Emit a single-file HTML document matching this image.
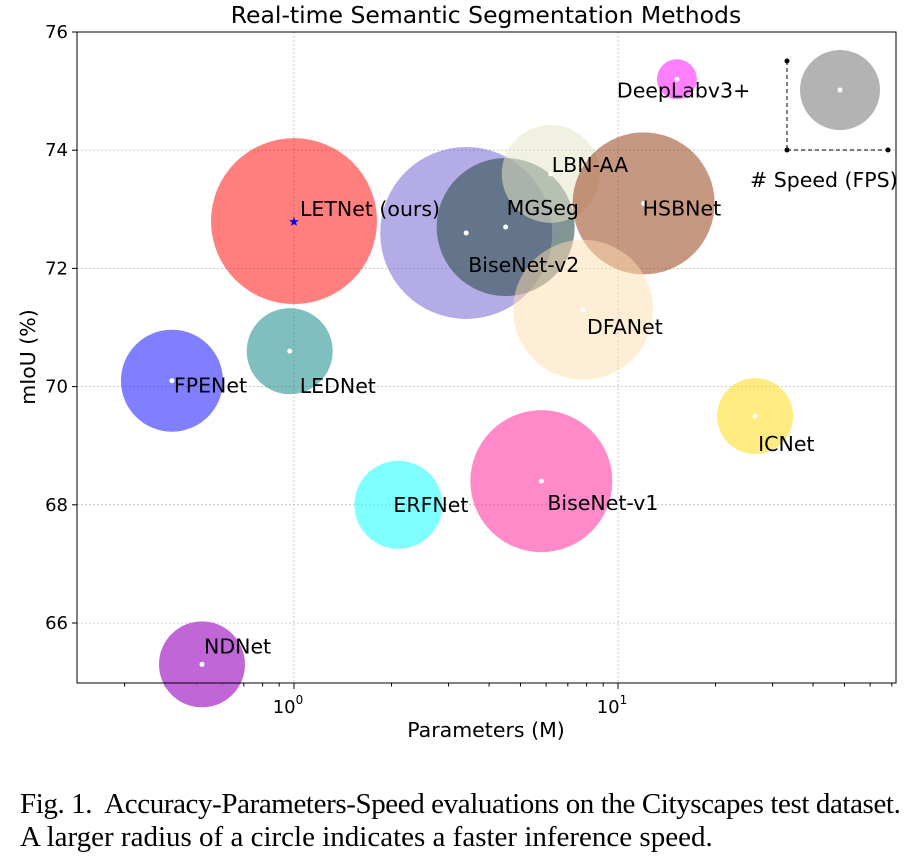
<!DOCTYPE html>
<html><head><meta charset="utf-8"><style>
body{margin:0;background:#fff;width:917px;height:856px;overflow:hidden}
svg text{font-family:"DejaVu Sans","Liberation Sans",sans-serif}
.cap{position:absolute;left:20px;font-family:"Liberation Serif",serif;font-size:29px;line-height:33px;color:#000;white-space:nowrap}
</style></head><body>
<svg id="chart" width="917" height="780" style="position:absolute;left:0;top:0"></svg>
<div class="cap" style="top:788px;letter-spacing:-0.4px">Fig. 1.&nbsp; Accuracy-Parameters-Speed evaluations on the Cityscapes test dataset.</div>
<div class="cap" style="top:821px">A larger radius of a circle indicates a faster inference speed.</div>
<script>
const methods=["LETNet (ours)","BiseNet-v2","MGSeg","LBN-AA","HSBNet","DFANet","FPENet","LEDNet","ERFNet","BiseNet-v1","ICNet","NDNet","DeepLabv3+"];
const params=[1.0,3.4,4.5,6.2,12,7.8,0.42,0.97,2.1,5.8,26.5,0.52,15.2];
const miou=[72.8,72.6,72.7,73.6,73.1,71.3,70.1,70.6,68.0,68.4,69.5,65.3,75.2];
const radii=[83,86,69,49,71,70,51,43,44,71,38,43,20];
const colors=["rgba(255,0,0,0.5)","rgba(106,90,205,0.5)","rgba(47,79,79,0.6)","rgba(230,230,200,0.55)","rgba(160,82,45,0.6)","rgba(255,222,173,0.5)","rgba(0,0,255,0.5)","rgba(0,128,128,0.5)","rgba(0,255,255,0.5)","rgba(255,20,147,0.5)","rgba(255,215,0,0.5)","rgba(186,85,211,0.9)","rgba(255,0,255,0.5)"];
const labelDx=[6,2,1,1,-1,4,2,10,-5,6,3,2,-60];
const labelDy=[-12,32,-19,-9,5,17,5,35,0,22,28,-18,11];
const yTicks=[66,68,70,72,74,76];
const xTicks=[1,10];
const X0=294,DEC=324,L=77,R=896,T=32,B=683;
const xs=v=>X0+Math.log10(v)*DEC;
const ys=v=>T+(76-v)*59.1;
const svg=document.getElementById('chart');
const NS="http://www.w3.org/2000/svg";
function mk(tag,at,parent){const e=document.createElementNS(NS,tag);for(const k in at)e.setAttribute(k,at[k]);(parent||svg).appendChild(e);return e;}
for(const t of yTicks){
 const g=mk('line',{x1:L,x2:R,y1:ys(t),y2:ys(t),stroke:'#bbb','stroke-width':0.8,'stroke-dasharray':'2,2'});
 
 
 mk('line',{x1:L-5,x2:L,y1:ys(t),y2:ys(t),stroke:'#000'});
 const tx=mk('text',{x:L-9,y:ys(t)+6,'text-anchor':'end','font-size':18});tx.textContent=t;
 
 
}
for(const t of xTicks){
 const g=mk('line',{x1:xs(t),x2:xs(t),y1:T,y2:B,stroke:'#bbb','stroke-width':0.8,'stroke-dasharray':'2,2'});
 
 
 mk('line',{x1:xs(t),x2:xs(t),y1:B,y2:B+6,stroke:'#000'});
 const tx=mk('text',{x:xs(t)-6,y:B+30,'text-anchor':'middle','font-size':18});tx.textContent='10';
 const sp=mk('tspan',{dy:-9,'font-size':12},tx);sp.textContent=(Math.log10(t)).toString();
 
 
}
for(let d=-1;d<=1;d++)for(let m=2;m<=9;m++){const v=m*Math.pow(10,d);const x=xs(v);if(x>L&&x<R)mk('line',{x1:x,x2:x,y1:B,y2:B+3.5,stroke:'#000'});}
methods.forEach((m,i)=>{
 const cx=xs(params[i]),cy=ys(miou[i]);
 const c=mk('circle',{cx,cy,r:radii[i],fill:colors[i]});
 
 
});
methods.forEach((m,i)=>{
 const cx=xs(params[i]),cy=ys(miou[i]);
 if(i===0){
  const s=mk('text',{x:cx,y:cy+5,'text-anchor':'middle','font-size':13,fill:'#00f'});s.textContent='★';
 } else mk('circle',{cx,cy,r:2.5,fill:'#fff'});
 const t=mk('text',{x:cx+labelDx[i],y:cy+labelDy[i]+7,'font-size':20.5});t.textContent=m;
 
 
});
mk('circle',{cx:840,cy:90,r:40,fill:'rgba(128,128,128,0.6)'});
mk('circle',{cx:840,cy:90,r:2.5,fill:'#fff'});
mk('line',{x1:787,x2:787,y1:61,y2:150,stroke:'#000','stroke-dasharray':'4,3'});
mk('line',{x1:787,x2:888,y1:150,y2:150,stroke:'#000','stroke-dasharray':'4,3'});
[[787,61],[787,150],[888,150]].forEach(p=>mk('circle',{cx:p[0],cy:p[1],r:2.5,fill:'#000'}));
const lg=mk('text',{x:750,y:187,'font-size':20.5});lg.textContent='# Speed (FPS)';


mk('rect',{x:L,y:T,width:R-L,height:B-T,fill:'none',stroke:'#000','stroke-width':1});
const ti=mk('text',{x:486,y:23,'text-anchor':'middle','font-size':23.5});ti.textContent='Real-time Semantic Segmentation Methods';


const xl=mk('text',{x:486,y:737,'text-anchor':'middle','font-size':20.5});xl.textContent='Parameters (M)';


const yl=mk('text',{x:0,y:0,'text-anchor':'middle','font-size':20.5,transform:'translate(35,357) rotate(-90)'});yl.textContent='mIoU (%)';


</script>
</body></html>
